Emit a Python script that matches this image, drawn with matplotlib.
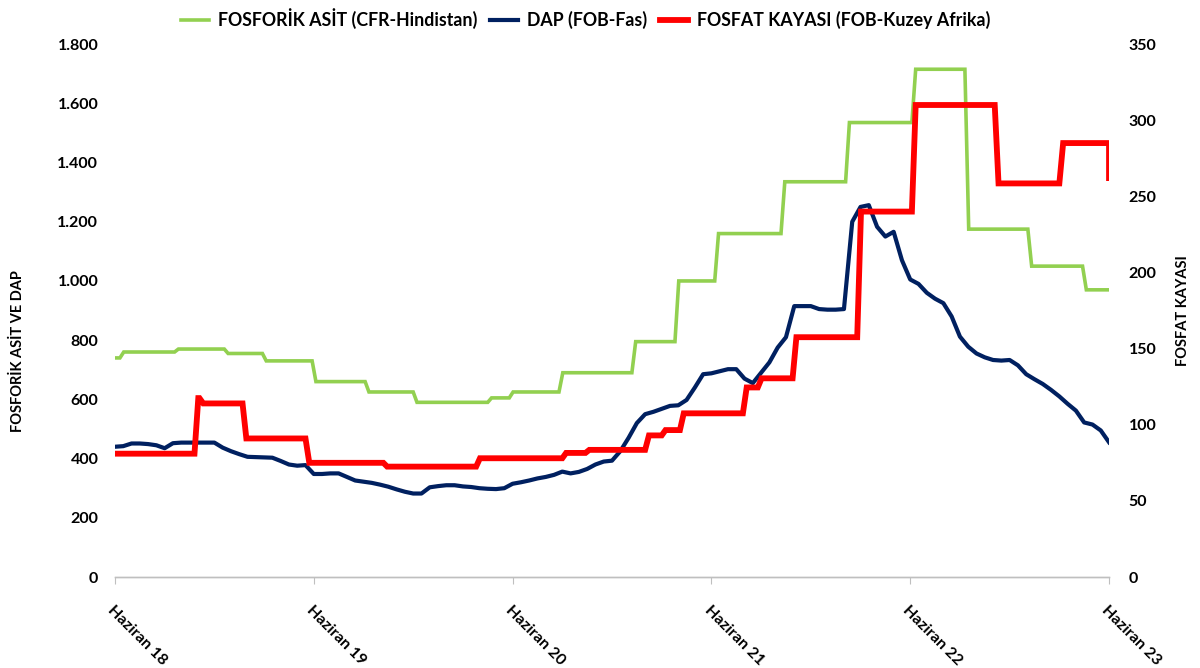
import numpy as np
import matplotlib
matplotlib.use("Agg")
import matplotlib.pyplot as plt
from matplotlib.ticker import FuncFormatter

plt.rcParams['font.family'] = ['Lato', 'DejaVu Sans']
plt.rcParams['font.weight'] = 'bold'

# time axis: months since June 2018
tick_months = [0, 12, 24, 36, 48, 60]
tick_labels = ["Haziran 18", "Haziran 19", "Haziran 20", "Haziran 21", "Haziran 22", "Haziran 23"]

# Phosphoric acid (CFR India), left axis - change dates and values
acid_months = [0, 0.3, 3.6, 6.6, 8.9, 11.9, 15.1, 18.0, 22.5, 23.8, 26.8, 31.2,
               33.8, 36.2, 40.2, 44.1, 48.1, 51.3, 55.1, 58.4, 60]
acid_values = [740, 760, 770, 755, 730, 660, 625, 590, 605, 625, 690, 795,
               1000, 1160, 1335, 1535, 1715, 1175, 1050, 970, 970]

# Phosphate rock (FOB North Africa), right axis
rock_months = [0, 4.8, 5.1, 7.7, 11.5, 16.2, 21.8, 27.0, 28.4, 32.0, 33.0, 34.1,
               37.9, 38.8, 40.9, 44.8, 48.1, 53.1, 57.0, 59.9, 60]
rock_values = [81, 117.5, 114, 91, 75, 72.5, 78, 81.5, 83.5, 93, 96.5, 107.5,
               124.5, 130.5, 157.5, 240, 310, 258.5, 285, 285, 262]

# DAP (FOB Morocco), left axis, half-monthly readings
dap_values = [440, 442, 451, 451, 449, 445, 435, 452, 454, 454, 454, 454, 454,
              437, 425, 415, 406, 405, 404, 403, 392, 380, 376, 378, 348, 348,
              350, 350, 338, 326, 322, 318, 312, 305, 296, 288, 282, 282, 303,
              307, 310, 310, 306, 304, 300, 298, 297, 300, 315, 320, 326, 333,
              338, 345, 356, 350, 355, 365, 380, 390, 393, 425, 470, 520, 550,
              558, 568, 578, 580, 598, 640, 685, 688, 695, 702, 702, 670, 655,
              690, 725, 775, 810, 915, 915, 915, 905, 903, 903, 905, 1200, 1250,
              1256, 1183, 1150, 1166, 1070, 1005, 990, 960, 940, 925, 880, 812,
              778, 755, 742, 733, 731, 733, 715, 685, 668, 652, 632, 610, 585,
              562, 522, 515, 495, 455]
dap_months = np.arange(len(dap_values)) * 0.5

green = "#92D050"
navy = "#002060"
red = "#FF0000"


def step_path(months, values, ramp=0.23):
    # weekly data: each change takes about one week
    xs, ys = [months[0]], [values[0]]
    for i in range(1, len(months)):
        xs += [months[i], min(months[i] + ramp, 60)]
        ys += [values[i - 1], values[i]]
    return xs, ys


fig = plt.figure(figsize=(12, 6.68), dpi=100)
ax = fig.add_axes([0.0958, 0.1362, 0.8284, 0.7978])
ax2 = ax.twinx()

ax_x, ax_y = step_path(acid_months, acid_values)
ax.plot(ax_x, ax_y, color=green, lw=2.6, label="FOSFORİK ASİT (CFR-Hindistan)",
        solid_joinstyle='miter')
ax.plot(dap_months, dap_values, color=navy, lw=3.0, label="DAP (FOB-Fas)")
rx, ry = step_path(rock_months, rock_values)
ax2.plot(rx, ry, color=red, lw=4.2, label="FOSFAT KAYASI (FOB-Kuzey Afrika)",
         solid_joinstyle='miter')

ax.set_xlim(0, 60)
ax.set_ylim(0, 1800)
ax2.set_ylim(0, 350)
ax.set_yticks(range(0, 1801, 200))
ax2.set_yticks(range(0, 351, 50))
ax.yaxis.set_major_formatter(FuncFormatter(lambda v, p: f"{int(v):,}".replace(",", ".")))

ax.set_xticks(tick_months)
ax.set_xticklabels(tick_labels, rotation=-45, ha='left', va='top',
                   rotation_mode='anchor', fontsize=11.5, fontweight='bold')
ax.tick_params(axis='x', length=5, color="#BFBFBF", pad=14)
ax.tick_params(axis='y', length=0, labelsize=11.5, pad=12)
ax2.tick_params(axis='y', length=0, labelsize=11.5, pad=14)

for a in (ax, ax2):
    for s in ('top', 'left', 'right'):
        a.spines[s].set_visible(False)
    a.spines['bottom'].set_color("#BFBFBF")
    a.spines['bottom'].set_linewidth(1.0)

fig.text(18 / 1200, 1 - 351 / 668, "FOSFORİK ASİT VE DAP", rotation=90,
         ha='center', va='center', fontsize=10.5, fontweight='bold')
fig.text(1183 / 1200, 1 - 311 / 668, "FOSFAT KAYASI", rotation=90,
         ha='center', va='center', fontsize=10.5, fontweight='bold')

h1, l1 = ax.get_legend_handles_labels()
h2, l2 = ax2.get_legend_handles_labels()
fig.legend(h1 + h2, l1 + l2, loc='upper center', bbox_to_anchor=(0.488, 1.012),
           ncol=3, frameon=False, fontsize=12.8, handlelength=1.6,
           columnspacing=0.7, handletextpad=0.5)

fig.savefig("out.png", dpi=100)
